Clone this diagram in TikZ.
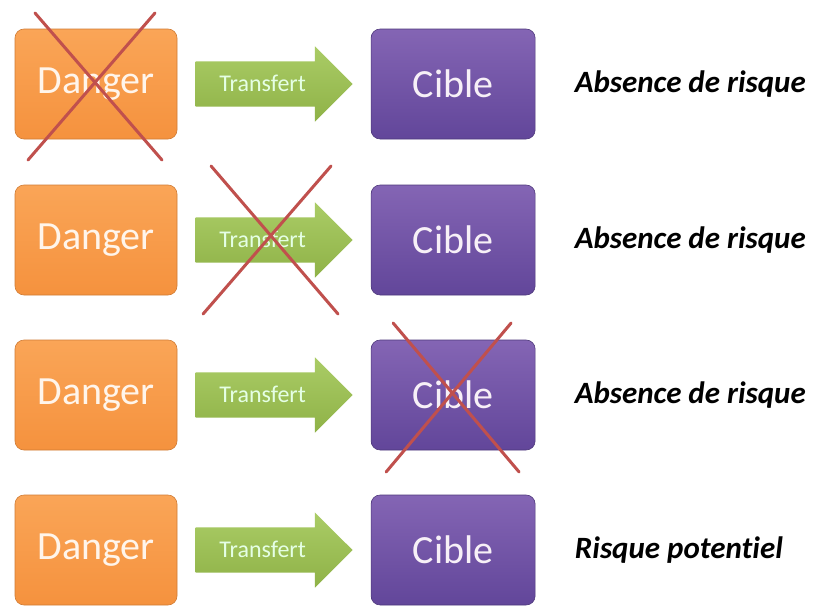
\documentclass[tikz,border=0pt]{standalone}
\usepackage{fontspec}
\setmainfont{Carlito}[Ligatures=NoCommon]
\usepackage{tikz}
\usetikzlibrary{positioning,shapes.arrows,calc}

\definecolor{dangerhaut}{HTML}{FAA557}
\definecolor{dangerbas}{HTML}{F5923E}
\definecolor{ciblehaut}{HTML}{8465B4}
\definecolor{ciblebas}{HTML}{62469A}
\definecolor{flechehaut}{HTML}{AACC66}
\definecolor{flechebas}{HTML}{8FB247}
\definecolor{rouge}{HTML}{C0504D}

\tikzset{
  boite/.style={rounded corners=9pt, minimum width=162pt, minimum height=110pt,
    font=\fontsize{40}{40}\selectfont},
  dangerbox/.style={boite, top color=dangerhaut, bottom color=dangerbas,
    draw=dangerbas!85!black, line width=0.6pt, text=orange!8},
  ciblebox/.style={boite, minimum width=164pt, top color=ciblehaut, bottom color=ciblebas,
    draw=ciblebas!80!black, line width=0.6pt, text=violet!6},
  fleche/.style={single arrow, single arrow head extend=15pt, inner xsep=0pt,
    inner ysep=0pt, text height=30pt, text depth=15pt, minimum height=157pt,
    top color=flechehaut, bottom color=flechebas,
    text=white!90!green, font=\fontsize{24}{24}\selectfont},
  legende/.style={anchor=west, font=\fontsize{31}{31}\selectfont\bfseries\itshape},
  rature/.style={draw=rouge, line width=3pt, line cap=round}
}

\begin{document}
\begin{tikzpicture}[x=1pt,y=-1pt,node distance=18pt]
	\useasboundingbox[fill=white] (0,0) rectangle (816,605);

	% danger -> transfert -> cible, one line per case
	\node[dangerbox] (danger1) at (96,84) {Danger};
	\node[fleche, right=18pt of danger1] (transfert1) {Transfert};
	\node[ciblebox, right=18pt of transfert1] (cible1) {Cible};
	\node[legende, right=36pt of cible1] (risque1) {Absence de risque};

	\node[dangerbox] (danger2) at (96,240) {Danger};
	\node[fleche, right=18pt of danger2] (transfert2) {Transfert};
	\node[ciblebox, right=18pt of transfert2] (cible2) {Cible};
	\node[legende, right=36pt of cible2] (risque2) {Absence de risque};

	\node[dangerbox] (danger3) at (96,395) {Danger};
	\node[fleche, right=18pt of danger3] (transfert3) {Transfert};
	\node[ciblebox, right=18pt of transfert3] (cible3) {Cible};
	\node[legende, right=36pt of cible3] (risque3) {Absence de risque};

	\node[dangerbox] (danger4) at (96,550) {Danger};
	\node[fleche, right=18pt of danger4] (transfert4) {Transfert};
	\node[ciblebox, right=18pt of transfert4] (cible4) {Cible};
	\node[legende, right=36pt of cible4] (risque4) {Risque potentiel};

	% crossed out links
	\coordinate (milieu2) at ($(danger2.east)!0.5!(cible2.west)$);
	\draw[rature] ([shift={(-61,-71)}]danger1.center) -- ([shift={(66,76)}]danger1.center);
	\draw[rature] ([shift={(59,-71)}]danger1.center) -- ([shift={(-68,76)}]danger1.center);
	\draw[rature] ([shift={(-63,-74)}]milieu2) -- ([shift={(64,74)}]milieu2);
	\draw[rature] ([shift={(57,-74)}]milieu2) -- ([shift={(-71,74)}]milieu2);
	\draw[rature] ([shift={(-60,-72)}]cible3.center) -- ([shift={(66,77)}]cible3.center);
	\draw[rature] ([shift={(58,-72)}]cible3.center) -- ([shift={(-67,77)}]cible3.center);
\end{tikzpicture}
\end{document}
